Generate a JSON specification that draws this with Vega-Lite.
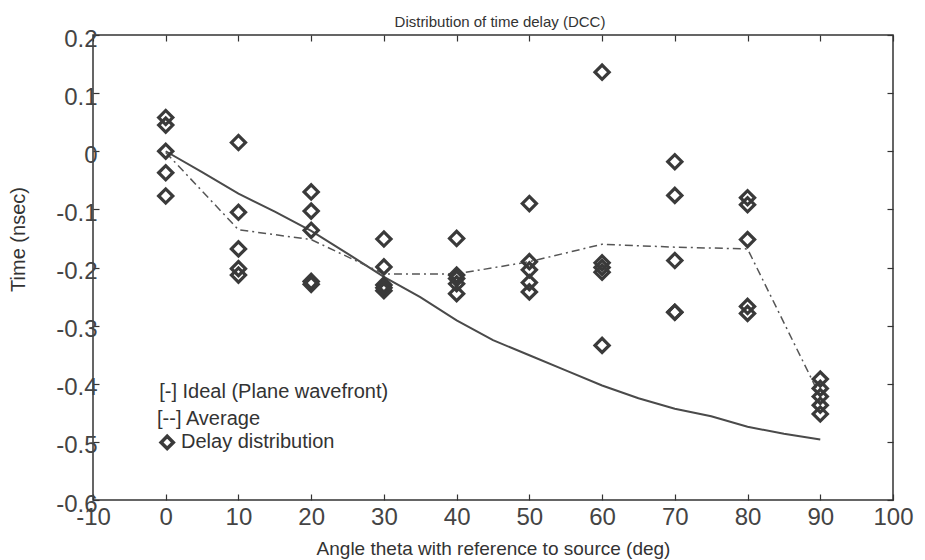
{
  "$schema": "https://vega.github.io/schema/vega-lite/v6.json",
  "width": 800,
  "height": 465,
  "autosize": {"type": "none"},
  "padding": {"left": 93, "top": 35, "right": 32, "bottom": 60},
  "background": "white",
  "title": {"text": "Distribution of time delay (DCC)", "fontSize": 15, "font": "Liberation Sans", "fontWeight": "normal", "color": "#333", "anchor": "middle", "offset": 11, "dx": 7, "dy": 14},
  "config": {
    "view": {"stroke": "#333", "strokeWidth": 1.5},
    "font": "Liberation Sans",
    "axis": {"grid": false, "domain": false, "tickColor": "#333", "tickWidth": 1.2, "tickSize": -6, "labelFont": "Liberation Sans", "labelFontSize": 24, "labelColor": "#444", "titleFont": "Liberation Sans", "titleFontWeight": "normal", "titleColor": "#333", "labelOverlap": false, "labelFlush": false}
  },
  "datasets": {
    "pts": [
      {"angle": 0, "delay": 0.058}, {"angle": 0, "delay": 0.045}, {"angle": 0, "delay": 0.0}, {"angle": 0, "delay": -0.037}, {"angle": 0, "delay": -0.077},
      {"angle": 10, "delay": 0.015}, {"angle": 10, "delay": -0.105}, {"angle": 10, "delay": -0.168}, {"angle": 10, "delay": -0.202}, {"angle": 10, "delay": -0.213},
      {"angle": 20, "delay": -0.070}, {"angle": 20, "delay": -0.103}, {"angle": 20, "delay": -0.136}, {"angle": 20, "delay": -0.224}, {"angle": 20, "delay": -0.229},
      {"angle": 30, "delay": -0.151}, {"angle": 30, "delay": -0.199}, {"angle": 30, "delay": -0.230}, {"angle": 30, "delay": -0.235}, {"angle": 30, "delay": -0.240},
      {"angle": 40, "delay": -0.150}, {"angle": 40, "delay": -0.213}, {"angle": 40, "delay": -0.219}, {"angle": 40, "delay": -0.228}, {"angle": 40, "delay": -0.245},
      {"angle": 50, "delay": -0.090}, {"angle": 50, "delay": -0.190}, {"angle": 50, "delay": -0.204}, {"angle": 50, "delay": -0.226}, {"angle": 50, "delay": -0.242},
      {"angle": 60, "delay": 0.136}, {"angle": 60, "delay": -0.192}, {"angle": 60, "delay": -0.200}, {"angle": 60, "delay": -0.208}, {"angle": 60, "delay": -0.334},
      {"angle": 70, "delay": -0.018}, {"angle": 70, "delay": -0.076}, {"angle": 70, "delay": -0.188}, {"angle": 70, "delay": -0.277}, {"angle": 70, "delay": -0.277},
      {"angle": 80, "delay": -0.080}, {"angle": 80, "delay": -0.092}, {"angle": 80, "delay": -0.152}, {"angle": 80, "delay": -0.267}, {"angle": 80, "delay": -0.279},
      {"angle": 90, "delay": -0.392}, {"angle": 90, "delay": -0.408}, {"angle": 90, "delay": -0.422}, {"angle": 90, "delay": -0.437}, {"angle": 90, "delay": -0.452}
    ],
    "avg": [
      {"angle": 0, "delay": -0.002}, {"angle": 10, "delay": -0.135}, {"angle": 20, "delay": -0.152}, {"angle": 30, "delay": -0.211},
      {"angle": 40, "delay": -0.211}, {"angle": 50, "delay": -0.190}, {"angle": 60, "delay": -0.160}, {"angle": 70, "delay": -0.165},
      {"angle": 80, "delay": -0.168}, {"angle": 90, "delay": -0.422}
    ],
    "ideal": [
      {"angle": 0, "delay": 0.0}, {"angle": 5, "delay": -0.036}, {"angle": 10, "delay": -0.073}, {"angle": 15, "delay": -0.104},
      {"angle": 20, "delay": -0.137}, {"angle": 25, "delay": -0.176}, {"angle": 30, "delay": -0.216}, {"angle": 35, "delay": -0.251},
      {"angle": 40, "delay": -0.291}, {"angle": 45, "delay": -0.325}, {"angle": 50, "delay": -0.351}, {"angle": 55, "delay": -0.377},
      {"angle": 60, "delay": -0.403}, {"angle": 65, "delay": -0.425}, {"angle": 70, "delay": -0.443}, {"angle": 75, "delay": -0.456},
      {"angle": 80, "delay": -0.474}, {"angle": 85, "delay": -0.486}, {"angle": 90, "delay": -0.496}
    ],
    "legendText": [
      {"angle": -0.9, "delay": -0.415, "label": "[-] Ideal (Plane wavefront)"},
      {"angle": -1.2, "delay": -0.461, "label": "[--] Average"},
      {"angle": 2.1, "delay": -0.501, "label": "Delay distribution"}
    ],
    "legendMark": [
      {"angle": 0.2, "delay": -0.501}
    ]
  },
  "resolve": {"axis": {"x": "independent", "y": "independent"}},
  "layer": [
    {
      "data": {"name": "ideal"},
      "mark": {"type": "line", "color": "#4a4a4a", "strokeWidth": 2},
      "encoding": {
        "x": {"field": "angle", "type": "quantitative", "scale": {"domain": [-10, 100], "nice": false, "zero": false},
              "axis": {"orient": "bottom", "values": [-10, 0, 10, 20, 30, 40, 50, 60, 70, 80, 90, 100], "labelExpr": "toString(datum.value)", "labelPadding": 11,
                       "title": "Angle theta with reference to source (deg)", "titleFontSize": 19, "titleX": 400, "titleY": 48, "titleBaseline": "middle", "titleAnchor": null}},
        "y": {"field": "delay", "type": "quantitative", "scale": {"domain": [-0.6, 0.2], "nice": false, "zero": false},
              "axis": {"orient": "left", "values": [-0.6, -0.5, -0.4, -0.3, -0.2, -0.1, 0, 0.1, 0.2], "labelExpr": "toString(round(datum.value*10)/10)", "labelPadding": 2, "labelOffset": 4,
                       "title": "Time (nsec)", "titleFontSize": 20, "titleX": -75, "titleY": 204, "titleAngle": -90, "titleBaseline": "middle", "titleAlign": "center"}}
      }
    },
    {
      "data": {"name": "avg"},
      "mark": {"type": "line", "color": "#555", "strokeWidth": 1.5, "strokeDash": [8, 4, 2, 4]},
      "encoding": {
        "x": {"field": "angle", "type": "quantitative", "axis": {"orient": "top", "values": [-10, 0, 10, 20, 30, 40, 50, 60, 70, 80, 90, 100], "labels": false, "title": null}},
        "y": {"field": "delay", "type": "quantitative", "axis": {"orient": "right", "values": [-0.6, -0.5, -0.4, -0.3, -0.2, -0.1, 0, 0.1, 0.2], "labels": false, "title": null}}
      }
    },
    {
      "data": {"name": "pts"},
      "mark": {"type": "point", "shape": "diamond", "size": 200, "filled": false, "stroke": "#3a3a3a", "strokeWidth": 3.2, "opacity": 1},
      "encoding": {
        "x": {"field": "angle", "type": "quantitative", "axis": null},
        "y": {"field": "delay", "type": "quantitative", "axis": null}
      }
    },
    {
      "data": {"name": "legendText"},
      "mark": {"type": "text", "align": "left", "baseline": "middle", "fontSize": 20, "font": "Liberation Sans", "color": "#333"},
      "encoding": {
        "x": {"field": "angle", "type": "quantitative", "axis": null},
        "y": {"field": "delay", "type": "quantitative", "axis": null},
        "text": {"field": "label"}
      }
    },
    {
      "data": {"name": "legendMark"},
      "mark": {"type": "point", "shape": "diamond", "size": 150, "filled": false, "stroke": "#3a3a3a", "strokeWidth": 3.5, "opacity": 1},
      "encoding": {
        "x": {"field": "angle", "type": "quantitative", "axis": null},
        "y": {"field": "delay", "type": "quantitative", "axis": null}
      }
    }
  ]
}
